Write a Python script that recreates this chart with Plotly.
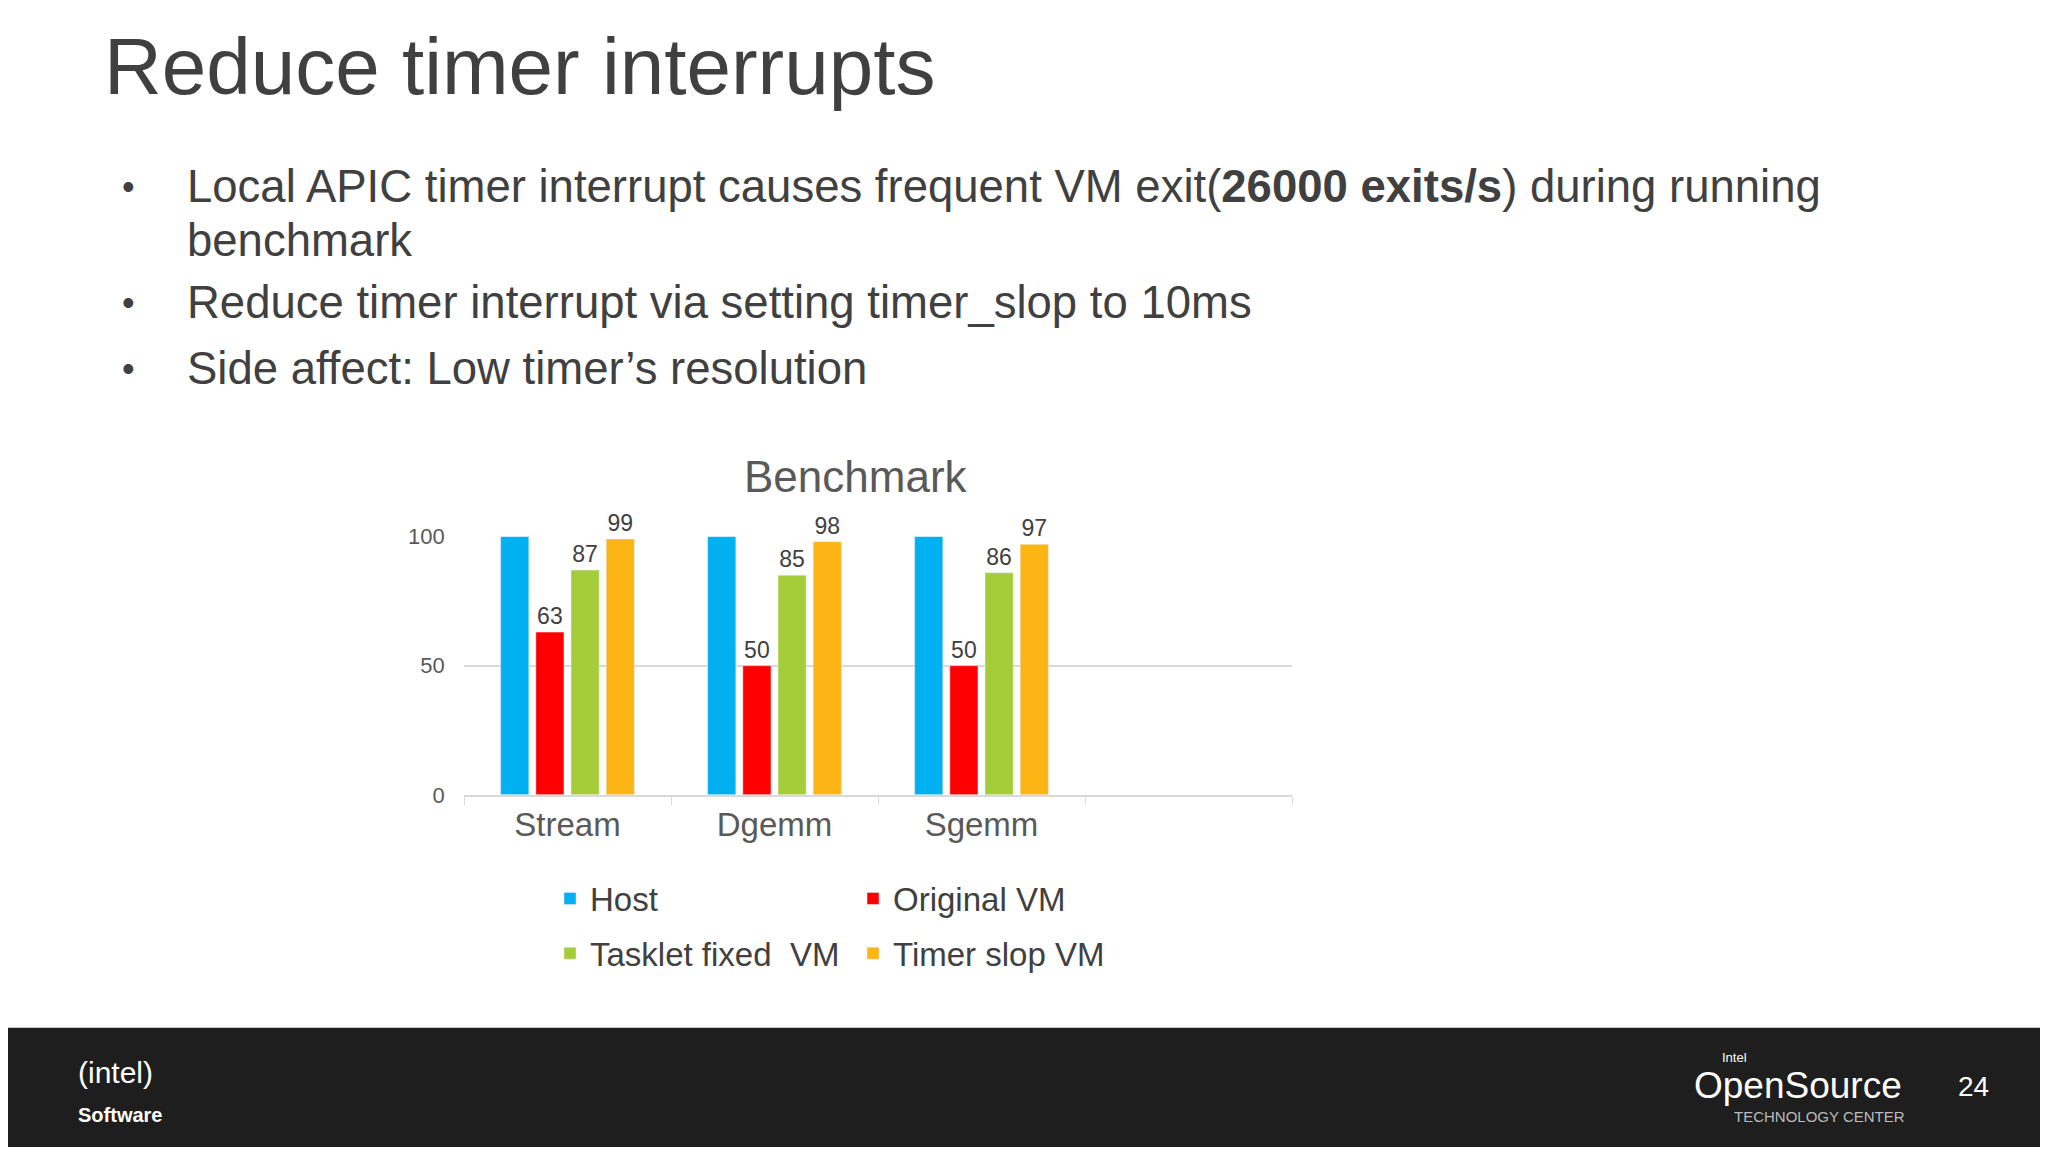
import plotly.graph_objects as go

W, H = 2048, 1152
DX, DY = -10, -10  # page body offset correction

# Data
categories = ['Stream', 'Dgemm', 'Sgemm', ' ']
host = [100, 100, 100, None]
original_vm = [63, 50, 50, None]
tasklet_vm = [87, 85, 86, None]
timer_slop_vm = [99, 98, 97, None]

series = [
    ('Host', host, '#00B0F0', False, 'legend'),
    ('Original VM', original_vm, '#FF0000', True, 'legend'),
    ('Tasklet fixed  VM', tasklet_vm, '#A5CD39', True, 'legend2'),
    ('Timer slop VM', timer_slop_vm, '#FDB515', True, 'legend2'),
]


def px(x):
    return (x + DX) / W


def py(y):
    return 1 - (y + DY) / H


fig = go.Figure()
for name, vals, color, show_lbl, leg in series:
    fig.add_trace(go.Bar(
        x=categories, y=vals, name=name, marker_color=color, legend=leg,
        text=[str(v) if (v is not None and show_lbl) else '' for v in vals],
        textposition='outside', cliponaxis=False,
        textfont=dict(size=23, color='#404040', family='Liberation Sans'),
    ))

# plot area in pixels
x0, x1 = 466, 1294
y_top, y_bot = 538, 802

legend_style = dict(orientation='h', xanchor='left', yanchor='middle',
                    entrywidth=258, entrywidthmode='pixels', traceorder='normal',
                    font=dict(size=33, color='#404040'), itemwidth=30)

fig.update_layout(
    width=W, height=H,
    margin=dict(l=0, r=0, t=0, b=0),
    paper_bgcolor='white', plot_bgcolor='white',
    font=dict(family='Liberation Sans', color='#404040'),
    barmode='group', bargap=0.32, bargroupgap=0.2,
    showlegend=True,
    legend=dict(x=px(552), y=py(908), **legend_style),
    legend2=dict(x=px(552), y=py(964), **legend_style),
    xaxis=dict(domain=[px(x0), px(x1)], tickson='boundaries', ticks='outside',
               ticklen=8, tickcolor='#D9D9D9', showline=True, linecolor='#D9D9D9',
               linewidth=2, tickfont=dict(size=33, color='#595959'), showgrid=False),
    yaxis=dict(domain=[py(y_bot), py(y_top)], range=[0, 100], dtick=50,
               showgrid=True, gridcolor='#D9D9D9', gridwidth=2, zeroline=False,
               tickfont=dict(size=22, color='#595959'), ticksuffix='   '),
)

# slide title and bullets
fig.add_annotation(text='Reduce timer interrupts', x=px(104), y=py(58), xref='paper', yref='paper',
                   xanchor='left', yanchor='middle', showarrow=False,
                   font=dict(size=80, color='#404040'))
bullets = [
    (180, 'Local APIC timer interrupt causes frequent VM exit(<b>26000 exits/s</b>) during running'),
    (235, 'benchmark'),
    (299, 'Reduce timer interrupt via setting timer_slop to 10ms'),
    (366, 'Side affect: Low timer’s resolution'),
]
for i, (yy, txt) in enumerate(bullets):
    fig.add_annotation(text=txt, x=px(187), y=py(yy), xref='paper', yref='paper',
                       xanchor='left', yanchor='middle', showarrow=False,
                       font=dict(size=45.5, color='#404040'))
    if i != 1:
        fig.add_annotation(text='•', x=px(130), y=py(yy), xref='paper', yref='paper',
                           xanchor='center', yanchor='middle', showarrow=False,
                           font=dict(size=36, color='#404040'))

fig.add_annotation(text='Benchmark', x=px(858), y=py(477), xref='paper', yref='paper',
                   xanchor='center', yanchor='middle', showarrow=False,
                   font=dict(size=44, color='#595959'))

# footer
fig.add_shape(type='rect', xref='paper', yref='paper', x0=0, x1=1, y0=0, y1=py(1040),
              fillcolor='#1E1E1E', line_width=0, layer='below')
fig.add_annotation(text='(intel)', x=px(78), y=py(1105), xref='paper', yref='paper',
                   showarrow=False, font=dict(size=30, color='white'))
fig.add_annotation(text='<b>Software</b>', x=px(78), y=py(1143), xref='paper', yref='paper',
                   showarrow=False, font=dict(size=20, color='white'))
fig.add_annotation(text='Intel', x=px(1722), y=py(1080), xref='paper', yref='paper', xanchor='left',
                   showarrow=False, font=dict(size=13, color='white'))
fig.add_annotation(text='OpenSource', x=px(1694), y=py(1122), xref='paper', yref='paper', xanchor='left',
                   showarrow=False, font=dict(size=37, color='white'))
fig.add_annotation(text='TECHNOLOGY CENTER', x=px(1734), y=py(1142), xref='paper', yref='paper',
                   xanchor='left', showarrow=False, font=dict(size=15, color='#BBBBBB'))
fig.add_annotation(text='24', x=px(1993), y=py(1118), xref='paper', yref='paper',
                   showarrow=False, font=dict(size=28, color='white'))

fig.write_html('out.html')
